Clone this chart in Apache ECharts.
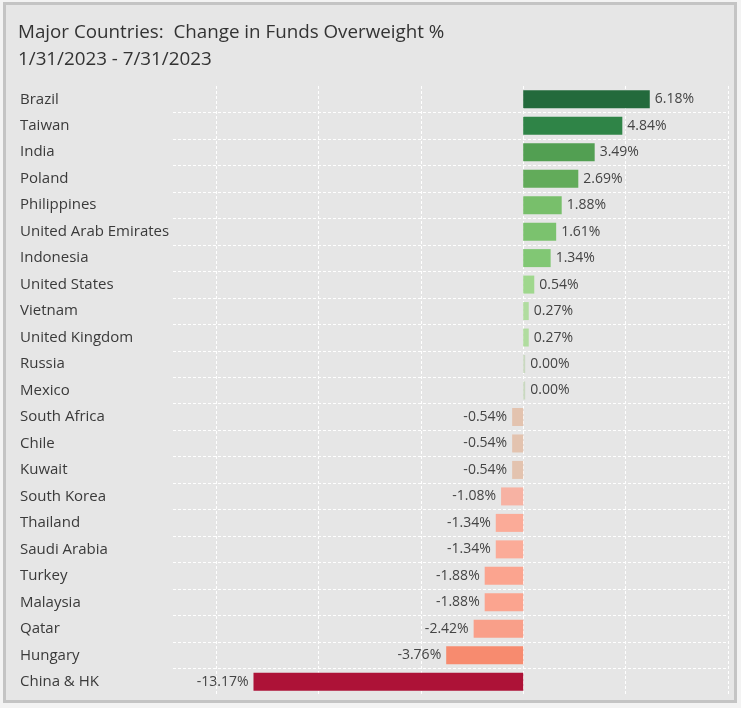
<!DOCTYPE html>
<html>
<head>
<meta charset="utf-8">
<script src="https://cdn.jsdelivr.net/npm/echarts@6/dist/echarts.min.js"></script>
<style>
html,body{margin:0;padding:0;background:#f3f3f3;}
#c{width:741px;height:708px;}
</style>
</head>
<body>
<div id="c"></div>
<script>
const categories = ["Brazil","Taiwan","India","Poland","Philippines","United Arab Emirates","Indonesia","United States","Vietnam","United Kingdom","Russia","Mexico","South Africa","Chile","Kuwait","South Korea","Thailand","Saudi Arabia","Turkey","Malaysia","Qatar","Hungary","China & HK"];
const values = [6.18,4.84,3.49,2.69,1.88,1.61,1.34,0.54,0.27,0.27,0.00,0.00,-0.54,-0.54,-0.54,-1.08,-1.34,-1.34,-1.88,-1.88,-2.42,-3.76,-13.17];
const barColors = ["#236a3c","#2f8447","#529f52","#62ab5a","#78bf6b","#7bc26e","#81c774","#9fd78d","#b0dc9f","#b0dc9f","#c9d8c0","#c9d8c0","#e3c3af","#e3c3af","#e3c3af","#f7b2a3","#fbab98","#fbab98","#fba48f","#fba48f","#f99f89","#f78b6f","#ad1237"];
const gridValues = [-15,-10,-5,0,5,10];
const title = "Major Countries:  Change in Funds Overweight %\n1/31/2023 - 7/31/2023";

const chart = echarts.init(document.getElementById('c'), null, {renderer:'canvas'});
const FONT = '"Open Sans"';
const data = values.map((v,i)=>({
  value: v,
  itemStyle: {color: barColors[i]},
  label: {position: v < 0 ? 'left' : 'right'}
}));
const splitColors = categories.map(()=> '#ffffff');
splitColors.push('#ffffff');
splitColors[0] = 'rgba(0,0,0,0)';
splitColors[splitColors.length-1] = 'rgba(0,0,0,0)';

chart.setOption({
  animation: false,
  backgroundColor: '#f3f3f3',
  graphic: [{
    type: 'rect', z: -10,
    shape: {x: 4.5, y: 3.5, width: 731, height: 698},
    style: {fill: '#e6e6e6', stroke: '#c4c4c4', lineWidth: 3}
  }],
  title: {
    text: title,
    left: 13, top: 14,
    textStyle: {fontFamily: FONT, fontSize: 18.8, fontWeight: 'normal', color: '#333', lineHeight: 27}
  },
  grid: {left: 173, right: 13, top: 86, bottom: 13, containLabel: false},
  xAxis: {
    type: 'value', min: -17.1, max: 10,
    axisLine: {show: false}, axisTick: {show: false}, axisLabel: {show: false},
    splitLine: {show: false}
  },
  yAxis: {
    type: 'category', inverse: true, data: categories,
    axisLine: {show: false}, axisTick: {show: false},
    axisLabel: {align: 'left', margin: 153, fontFamily: FONT, fontSize: 15, color: '#3a3a3a'},
    splitLine: {show: true, lineStyle: {type: [3,2], color: splitColors, width: 1}}
  },
  series: [{
    type: 'bar', data: data, barWidth: 18, barMinHeight: 2,
    label: {show: true, distance: 5, fontFamily: FONT, fontSize: 14, color: '#444',
      formatter: p => p.value.toFixed(2) + '%'},
    markLine: {
      silent: true, symbol: 'none', label: {show: false}, z: 1,
      lineStyle: {color: '#ffffff', type: [3,2], width: 1},
      data: gridValues.map(v => ({xAxis: v}))
    },
    z: 2
  }]
});
</script>
</body>
</html>
